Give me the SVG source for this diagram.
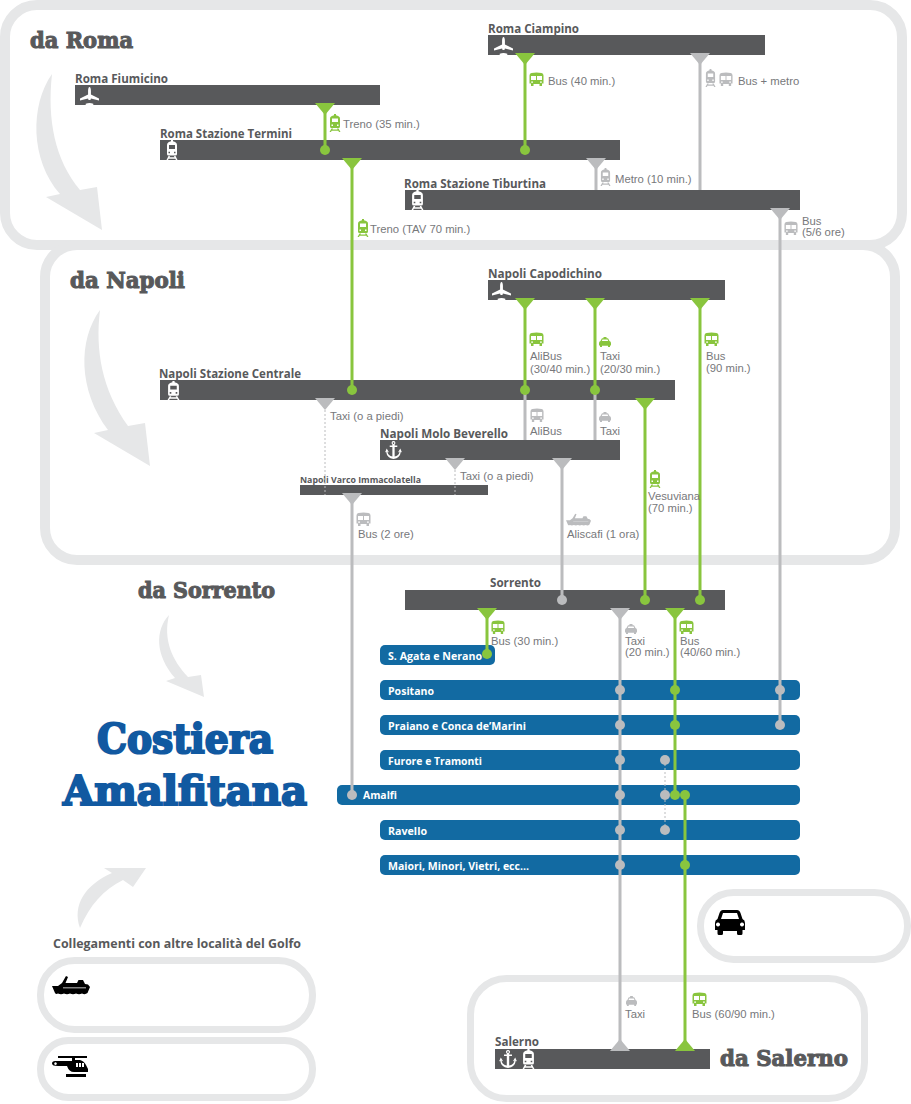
<svg xmlns="http://www.w3.org/2000/svg" width="911" height="1104" viewBox="0 0 911 1104">
<style>
text{font-family:"Liberation Sans",Arial,sans-serif}
.frame{fill:none;stroke:#e6e7e8}
.arrow{fill:#e6e7e8}
.bar{fill:#58595b}
.blue{fill:#126aa2}
.title{font-family:"DejaVu Serif",serif;font-weight:bold;fill:#58595b;stroke:#58595b;stroke-width:1.100;font-size:23px}
.big{font-family:"DejaVu Serif",serif;font-weight:bold;fill:#1159a1;stroke:#1159a1;stroke-width:2.200;font-size:41px}
.st{font-family:"Open Sans",sans-serif;font-weight:bold;fill:#58595b;font-size:12px}
.pl{font-family:"Open Sans",sans-serif;font-weight:bold;fill:#fff;font-size:11px}
.lb{fill:#77787b;font-size:11.300px}
.g{stroke:#89c53e;stroke-width:3;fill:none}
.s{stroke:#bbbcbe;stroke-width:3;fill:none}
.d{stroke:#bbbcbe;stroke-width:1;stroke-dasharray:2 2;fill:none}
.gf{fill:#89c53e;color:#89c53e}
.sf{fill:#bbbcbe;color:#bbbcbe}
.w{color:#fff}
.k{color:#000}
</style>
<defs>
<path id="td" d="M-10 0H10L0 12z"/>
<path id="tu" d="M-10 0H10L0 -12z"/>
<symbol id="train" viewBox="0 0 12 18" preserveAspectRatio="none"><path fill="currentColor" fill-rule="evenodd" d="M5 0H7V1.200Q9.500 1.600 10.500 3Q11 3.600 11 5V12.500Q11 14 9.500 14H2.500Q1 14 1 12.500V5Q1 3.600 1.500 3Q2.500 1.600 5 1.200ZM3 4.500V8H9V4.500ZM2.500 10.500V12H4V10.500ZM8 10.500V12H9.500V10.500Z"/><path fill="currentColor" d="M2.500 14.500H4L3.500 15.500H8.500L8 14.500H9.500L11.500 18H10L9.300 16.800H2.700L2 18H.5Z"/></symbol>
<symbol id="bus" viewBox="0 0 15 14" preserveAspectRatio="none"><path fill="currentColor" fill-rule="evenodd" d="M2.500 1Q7.500 0 12.500 1Q14.500 1.400 14.500 3.500V11.500H13V14H10.500V12H4.500V14H2V11.500H.5V3.500Q.5 1.400 2.500 1ZM2 4V8H7V4ZM8 4V8H13V4ZM2.200 9.500V10.800H4V9.500ZM11 9.500V10.800H12.800V9.500Z"/></symbol>
<symbol id="car" viewBox="0 0 30 25" preserveAspectRatio="none"><path fill="currentColor" fill-rule="evenodd" d="M8 0H22Q24.500 0 25.500 3L27.500 9Q30 10 30 13V20H27.500V23.500Q27.500 25 26 25H23.500Q22 25 22 23.500V21H8V23.500Q8 25 6.500 25H4Q2.500 25 2.500 23.500V20H0V13Q0 10 2.500 9L4.500 3Q5.500 0 8 0ZM8 3L6 9H24L22 3ZM3 12.500A2 2 0 1 0 3.010 12.500ZM27 12.500A2 2 0 1 0 27.010 12.500Z"/></symbol>
<symbol id="taxi" viewBox="0 0 12 10" preserveAspectRatio="none"><path fill="currentColor" fill-rule="evenodd" d="M4.500 0H7.500V1.200H8.500Q9.300 1.200 9.700 2.500L10.500 4Q12 4.600 12 6V8.500H11V10H9V8.700H3V10H1V8.500H0V6Q0 4.600 1.500 4L2.300 2.500Q2.700 1.200 3.500 1.200H4.500ZM3.500 2.500L2.800 4H9.200L8.500 2.500Z"/></symbol>
<symbol id="plane" viewBox="0 0 20 18" preserveAspectRatio="none"><path fill="currentColor" d="M10 0C11 0 11.500 2 11.500 4V7.500L20 11.500V13.500L11.500 11.500L11 13H9L8.500 11.500L0 13.500V11.500L8.500 7.500V4C8.500 2 9 0 10 0ZM6 16.800Q10 15 14 16.800V18H6Z"/></symbol>
<symbol id="anchor" viewBox="0 0 18 18" preserveAspectRatio="none"><path fill="currentColor" fill-rule="evenodd" d="M9 0A2 2 0 0 1 10.200 3.600V4.500H13V6H10.200V15.500Q14.500 15 15.500 10.500L13.700 11.500L16.200 7.500L18 11.500L16.800 10.800Q16 17 9 18Q2 17 1.200 10.800L0 11.500L1.800 7.500L4.300 11.500L2.500 10.500Q3.500 15 7.800 15.500V6H5V4.500H7.800V3.600A2 2 0 0 1 9 0ZM9 1.200A.8 .8 0 1 0 9.010 1.200Z"/></symbol>
<symbol id="ship" viewBox="0 0 38 20" preserveAspectRatio="none"><path fill="currentColor" fill-rule="evenodd" d="M0 11H6L10 8L14 1L16 2L13.500 8H25L26.500 5H31L33 9L36 9.500L38 12L35.500 18Q33 20 30 18.500Q27 20 24 18.500Q21 20 18 18.500Q15 20 12 18.500Q9 20 6 18.500Q4 19.500 3 18ZM11 12.500V13.200H34V12.500Z"/></symbol>
<symbol id="heli" viewBox="0 0 36 21" preserveAspectRatio="none"><path fill="currentColor" fill-rule="evenodd" d="M6 0H35V2H23V4H28Q32 5 34 9L36 13V16H22Q17 16 15 10H6Q0 10 0 7.500Q0 5 3 5H20V2H6ZM3.500 6.300A1.300 1.300 0 1 0 3.510 6.300ZM24 7V11H26V7ZM27 7V11H29V7ZM30 7V11H32V7ZM14 18H34V21H14Z"/></symbol>
</defs>

<g id="frames">
<rect class="frame" stroke-width="10" x="5" y="5" width="897" height="240" rx="32"/>
<rect class="frame" stroke-width="10" x="45" y="245" width="850" height="315" rx="32"/>
<rect class="frame" stroke-width="7" x="40.500" y="960.500" width="272" height="69" rx="34"/>
<rect class="frame" stroke-width="7" x="40.500" y="1040.500" width="272" height="57" rx="28"/>
<rect class="frame" stroke-width="7" x="700.500" y="892.500" width="207" height="67" rx="33"/>
<rect class="frame" stroke-width="7" x="470.500" y="978.500" width="394" height="120" rx="36"/>
</g>
<g id="arrows">
<path id="curve-roma" class="arrow" d="M52 74C30 105 30 160 60 194L46 197L102 230L97 187L80 190C55 160 47 120 52 74Z"/>
<path id="curve-napoli" class="arrow" d="M100 310C78 340 78 390 108 430L94 433L150 466L145 423L128 426C102 390 95 350 100 310Z"/>
<path id="curve-sorrento" class="arrow" d="M169 615C155 630 155 655 175 678L166 681L204 697L201 675L188 677C172 660 163 640 169 615Z"/>
<path id="curve-golfo" class="arrow" d="M80 928C72 905 85 885 112 873L104 868H146L133 887L123 880C103 890 90 905 80 928Z"/>
</g>
<g id="titles">
<text class="title" x="30" y="48" textLength="103" lengthAdjust="spacingAndGlyphs">da Roma</text>
<text class="title" x="70" y="288" textLength="115" lengthAdjust="spacingAndGlyphs">da Napoli</text>
<text class="title" x="138" y="598" textLength="137" lengthAdjust="spacingAndGlyphs">da Sorrento</text>
<text class="title" x="720" y="1066" textLength="128" lengthAdjust="spacingAndGlyphs">da Salerno</text>
<text class="big" x="97" y="753" textLength="176" lengthAdjust="spacingAndGlyphs">Costiera</text>
<text class="big" x="63" y="805" textLength="244" lengthAdjust="spacingAndGlyphs">Amalfitana</text>
<text class="st" x="53" y="948" textLength="248" lengthAdjust="spacingAndGlyphs">Collegamenti con altre località del Golfo</text>
</g>

<g id="node-fiumicino"><text class="st" x="75" y="83" textLength="93" lengthAdjust="spacingAndGlyphs">Roma Fiumicino</text><rect class="bar" x="75" y="85" width="305" height="20"/><use class="w" href="#plane" x="80" y="87" width="19" height="18"/></g>
<g id="node-termini"><text class="st" x="160" y="138" textLength="132" lengthAdjust="spacingAndGlyphs">Roma Stazione Termini</text><rect class="bar" x="160" y="140" width="460" height="20"/><use class="w" href="#train" x="166" y="140" width="12" height="20"/></g>
<g id="node-ciampino"><text class="st" x="488" y="33" textLength="91" lengthAdjust="spacingAndGlyphs">Roma Ciampino</text><rect class="bar" x="488" y="35" width="277" height="20"/><use class="w" href="#plane" x="494" y="37" width="19" height="18"/></g>
<g id="node-tiburtina"><text class="st" x="404" y="188" textLength="142" lengthAdjust="spacingAndGlyphs">Roma Stazione Tiburtina</text><rect class="bar" x="405" y="190" width="395" height="20"/><use class="w" href="#train" x="411" y="190" width="13" height="20"/></g>
<g id="node-capodichino"><text class="st" x="488" y="278" textLength="114" lengthAdjust="spacingAndGlyphs">Napoli Capodichino</text><rect class="bar" x="488" y="280" width="237" height="20"/><use class="w" href="#plane" x="492" y="282" width="19" height="18"/></g>
<g id="node-centrale"><text class="st" x="159" y="378" textLength="142" lengthAdjust="spacingAndGlyphs">Napoli Stazione Centrale</text><rect class="bar" x="160" y="380" width="515" height="20"/><use class="w" href="#train" x="167" y="381" width="13" height="19"/></g>
<g id="node-molo"><text class="st" x="380" y="438" textLength="128" lengthAdjust="spacingAndGlyphs">Napoli Molo Beverello</text><rect class="bar" x="380" y="440" width="240" height="20"/><use class="w" href="#anchor" x="385" y="441" width="17" height="18"/></g>
<g id="node-varco"><text class="st" x="300" y="483" style="font-size:9px" textLength="121" lengthAdjust="spacingAndGlyphs">Napoli Varco Immacolatella</text><rect class="bar" x="300" y="485" width="188" height="10"/></g>
<g id="node-sorrento"><text class="st" x="490" y="587" textLength="51" lengthAdjust="spacingAndGlyphs">Sorrento</text><rect class="bar" x="405" y="590" width="320" height="20"/></g>
<g id="node-salerno"><text class="st" x="495" y="1046" textLength="44" lengthAdjust="spacingAndGlyphs">Salerno</text><rect class="bar" x="495" y="1049" width="215" height="20"/><use class="w" href="#anchor" x="499" y="1050" width="18" height="18"/><use class="w" href="#train" x="522" y="1049" width="13" height="20"/></g>

<g id="node-agata"><rect class="blue" x="380" y="645" width="115" height="20" rx="5"/><text class="pl" x="388" y="660" textLength="94" lengthAdjust="spacingAndGlyphs">S. Agata e Nerano</text></g>
<g id="node-positano"><rect class="blue" x="380" y="680" width="420" height="20" rx="5"/><text class="pl" x="388" y="695" textLength="46" lengthAdjust="spacingAndGlyphs">Positano</text></g>
<g id="node-praiano"><rect class="blue" x="380" y="715" width="420" height="20" rx="5"/><text class="pl" x="388" y="730" textLength="138" lengthAdjust="spacingAndGlyphs">Praiano e Conca de’Marini</text></g>
<g id="node-furore"><rect class="blue" x="380" y="750" width="420" height="20" rx="5"/><text class="pl" x="388" y="765" textLength="94" lengthAdjust="spacingAndGlyphs">Furore e Tramonti</text></g>
<g id="node-amalfi"><rect class="blue" x="337" y="785" width="463" height="20" rx="5"/><text class="pl" x="363" y="799" textLength="34" lengthAdjust="spacingAndGlyphs">Amalfi</text></g>
<g id="node-ravello"><rect class="blue" x="380" y="820" width="420" height="20" rx="5"/><text class="pl" x="388" y="835" textLength="39" lengthAdjust="spacingAndGlyphs">Ravello</text></g>
<g id="node-maiori"><rect class="blue" x="380" y="855" width="420" height="20" rx="5"/><text class="pl" x="388" y="870" textLength="141" lengthAdjust="spacingAndGlyphs">Maiori, Minori, Vietri, ecc...</text></g>

<g id="connectors">
<path class="s" d="M700 55V190M596 160V190M780 210V724M525 390V440M595 390V440M562 460V600M352 495V795M620 610V1045"/>
<path class="d" d="M325 410V495M455 470V495M665 760V830"/>
<path class="g" d="M325 105V150M352 160V390M525 55V150M525 300V390M595 300V390M700 300V600M645 400V600M487 610V654M675 610V795M685 795V1045"/>
<g class="sf">
<use href="#td" x="700" y="53"/><use href="#td" x="596" y="158"/><use href="#td" x="780" y="208"/><use href="#td" x="325" y="398"/><use href="#td" x="455" y="458"/><use href="#td" x="562" y="458"/><use href="#td" x="352" y="493"/><use href="#td" x="620" y="608"/><use href="#tu" x="620" y="1051"/>
<circle cx="562" cy="600" r="5"/><circle cx="352" cy="795" r="5"/><circle cx="780" cy="690" r="5"/><circle cx="780" cy="725" r="5"/>
<circle cx="620" cy="690" r="5"/><circle cx="620" cy="725" r="5"/><circle cx="620" cy="760" r="5"/><circle cx="620" cy="795" r="5"/><circle cx="620" cy="830" r="5"/><circle cx="620" cy="865" r="5"/>
<circle cx="665" cy="760" r="5"/><circle cx="665" cy="795" r="5"/><circle cx="665" cy="830" r="5"/>
</g>
<g class="gf">
<use href="#td" x="325" y="103"/><use href="#td" x="352" y="158"/><use href="#td" x="525" y="53"/><use href="#td" x="525" y="298"/><use href="#td" x="595" y="298"/><use href="#td" x="700" y="298"/><use href="#td" x="645" y="398"/><use href="#td" x="487" y="608"/><use href="#td" x="675" y="608"/><use href="#tu" x="685" y="1051"/>
<circle cx="325" cy="150" r="5"/><circle cx="525" cy="150" r="5"/><circle cx="352" cy="390" r="5"/><circle cx="525" cy="390" r="5"/><circle cx="595" cy="390" r="5"/><circle cx="645" cy="600" r="5"/><circle cx="700" cy="600" r="5"/><circle cx="487" cy="654" r="5"/>
<circle cx="675" cy="690" r="5"/><circle cx="675" cy="725" r="5"/><circle cx="675" cy="795" r="5"/><circle cx="685" cy="795" r="5"/><circle cx="685" cy="865" r="5"/>
</g>
</g>

<g id="connector-icons">
<g class="gf">
<use href="#train" x="329" y="114" width="12" height="18"/><use href="#train" x="357" y="219" width="12" height="18"/><use href="#train" x="649" y="470" width="12" height="18"/>
<use href="#bus" x="529" y="72" width="15" height="14"/><use href="#bus" x="529" y="332" width="15" height="14"/><use href="#bus" x="704" y="332" width="15" height="14"/><use href="#bus" x="491" y="620" width="14" height="14"/><use href="#bus" x="679" y="620" width="15" height="14"/><use href="#bus" x="692" y="992" width="15" height="14"/>
<use href="#taxi" x="599" y="337" width="12" height="10"/>
</g>
<g class="sf">
<use href="#train" x="705" y="69" width="11" height="18"/><use href="#train" x="600" y="168" width="11" height="18"/>
<use href="#bus" x="719" y="72" width="14" height="14"/><use href="#bus" x="784" y="221" width="14" height="14"/><use href="#bus" x="530" y="408" width="14" height="14"/><use href="#bus" x="356" y="512" width="15" height="14"/>
<use href="#taxi" x="599" y="412" width="12" height="10"/><use href="#taxi" x="625" y="624" width="12" height="10"/><use href="#taxi" x="626" y="996" width="11" height="10"/>
<use href="#ship" x="566" y="513" width="25" height="13"/>
</g>
<use class="k" href="#ship" x="52" y="975" width="38" height="20"/>
<use class="k" href="#heli" x="52" y="1056" width="36" height="21"/>
<use class="k" href="#car" x="715" y="910" width="30" height="25"/>
</g>

<g id="connector-labels">
<text class="lb" x="343" y="128">Treno (35 min.)</text>
<text class="lb" x="370" y="233">Treno (TAV 70 min.)</text>
<text class="lb" x="548" y="85">Bus (40 min.)</text>
<text class="lb" x="738" y="85">Bus + metro</text>
<text class="lb" x="615" y="183">Metro (10 min.)</text>
<text class="lb" x="802" y="225">Bus</text><text class="lb" x="802" y="236">(5/6 ore)</text>
<text class="lb" x="530" y="360">AliBus</text><text class="lb" x="530" y="373">(30/40 min.)</text>
<text class="lb" x="600" y="360">Taxi</text><text class="lb" x="600" y="373">(20/30 min.)</text>
<text class="lb" x="706" y="360">Bus</text><text class="lb" x="706" y="372">(90 min.)</text>
<text class="lb" x="330" y="420">Taxi (o a piedi)</text>
<text class="lb" x="530" y="435">AliBus</text>
<text class="lb" x="600" y="435">Taxi</text>
<text class="lb" x="460" y="480">Taxi (o a piedi)</text>
<text class="lb" x="648" y="500">Vesuviana</text><text class="lb" x="648" y="512">(70 min.)</text>
<text class="lb" x="358" y="538">Bus (2 ore)</text>
<text class="lb" x="567" y="538">Aliscafi (1 ora)</text>
<text class="lb" x="491" y="645">Bus (30 min.)</text>
<text class="lb" x="625" y="645">Taxi</text><text class="lb" x="625" y="656">(20 min.)</text>
<text class="lb" x="680" y="645">Bus</text><text class="lb" x="680" y="656">(40/60 min.)</text>
<text class="lb" x="625" y="1018">Taxi</text>
<text class="lb" x="692" y="1018">Bus (60/90 min.)</text>
</g>
</svg>
